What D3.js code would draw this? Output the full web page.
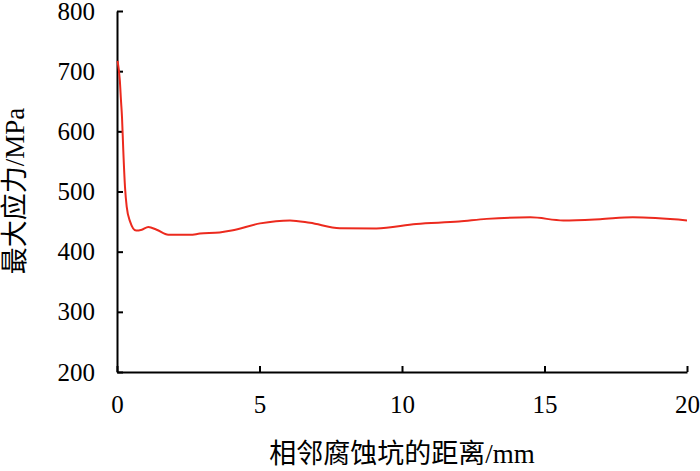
<!DOCTYPE html>
<html><head><meta charset="utf-8">
<script src="https://cdn.jsdelivr.net/npm/d3@7"></script>
<style>body{margin:0;background:#fff}</style>
</head><body>
<svg id="c" width="700" height="471"></svg>
<script>
const xTicks = [0, 5, 10, 15, 20];
const yTicks = [200, 300, 400, 500, 600, 700, 800];
const xLabel = "相邻腐蚀坑的距离/mm";
const yLabel = "最大应力/MPa";
const distance = [0.02, 0.1, 0.14, 0.175, 0.22, 0.28, 0.34, 0.46, 0.67, 0.87, 1.1, 1.39, 1.8, 2.56, 2.91, 3.6, 4.02, 5.02, 6.07, 6.77, 7.82, 9.1, 10.5, 12.0, 12.97, 14.5, 15.66, 16.95, 18.1, 20];
const stress   = [717, 684, 651, 624, 569, 508, 475, 450, 435, 436.5, 441, 436.5, 428, 428, 430, 432, 435, 447, 452, 448, 439, 438.5, 446, 450, 454.5, 457, 452, 454, 457, 452];

const svg = d3.select("#c");
const x = d3.scaleLinear().domain([0, 20]).range([117, 687]);
const y = d3.scaleLinear().domain([200, 800]).range([372, 11]);
const font = "'Liberation Serif','Times New Roman','Noto Sans CJK SC',serif";

const xAxis = svg.append("g").attr("transform", `translate(0,${y(200)})`)
  .call(d3.axisBottom(x).tickValues(xTicks).tickSize(-6).tickPadding(23).tickSizeOuter(0));
const yAxis = svg.append("g").attr("transform", `translate(${x(0)},0)`)
  .call(d3.axisLeft(y).tickValues(yTicks).tickSize(-6).tickPadding(22).tickSizeOuter(0));
[xAxis, yAxis].forEach(a => {
  a.select(".domain").attr("stroke", "#000").attr("stroke-width", 2);
  a.selectAll(".tick line").attr("stroke", "#000").attr("stroke-width", 2);
  a.selectAll(".tick text").attr("fill", "#000").style("font-family", font).style("font-size", "25px");
});

svg.append("path").datum(distance.map((d, i) => [d, stress[i]]))
  .attr("fill", "none").attr("stroke", "#ec2a1e").attr("stroke-width", 2)
  .attr("d", d3.line().x(d => x(d[0])).y(d => y(d[1])).curve(d3.curveMonotoneX));

svg.append("text").attr("x", 402).attr("y", 463).attr("text-anchor", "middle")
  .style("font-family", font).style("font-size", "27px").text(xLabel);
svg.append("text").attr("transform", "translate(24,191) rotate(-90)").attr("text-anchor", "middle")
  .style("font-family", font).style("font-size", "27px").text(yLabel);
</script>
</body></html>
